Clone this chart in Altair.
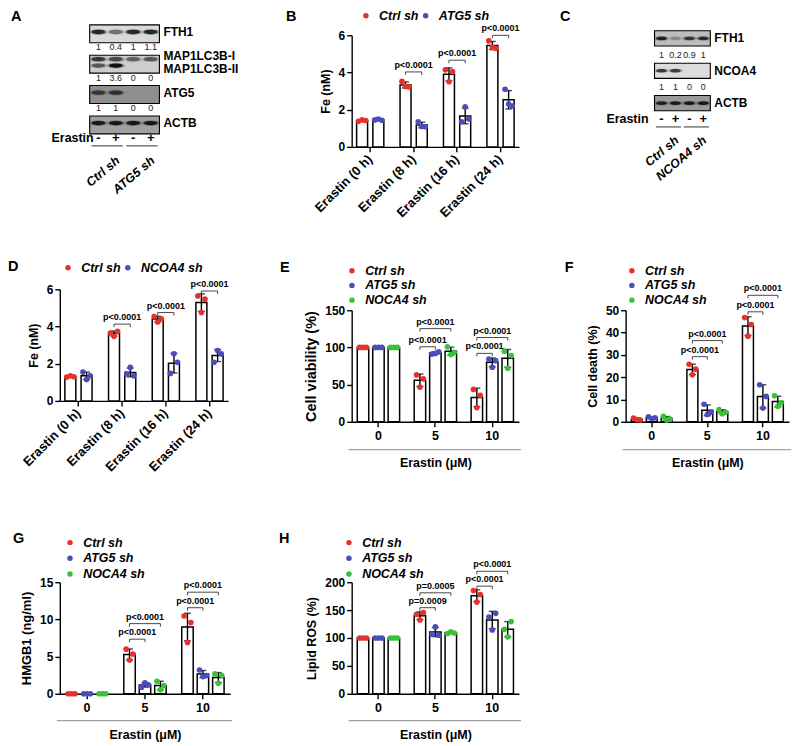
import altair as alt
import pandas as pd

FONT = "Liberation Sans"
RED, BLUE, GREEN = "#E6332A", "#4B4EBA", "#37C237"

# ---------------- shared categories ----------------
FE_GROUPS = ["Erastin (0 h)", "Erastin (8 h)", "Erastin (16 h)", "Erastin (24 h)"]
DOSES = ["0", "5", "10"]
SH3 = ["Ctrl sh", "ATG5 sh", "NOCA4 sh"]
LANES = [0, 1, 2, 3]
ERASTIN_SIGNS = ["-", "+", "-", "+"]

# ---------------- Panel A (western blot) ----------------
A_ROWS = ["FTH1", "q1", "MAP1LC3B", "q2", "ATG5", "q3", "ACTB", "Erastin"]
A_FTH1 = [0.85, 0.45, 0.85, 0.85]
A_LC3_I = [0.75, 0.65, 0.5, 0.55]
A_LC3_II = [0.55, 1.0, 0.0, 0.0]
A_ATG5 = [0.65, 0.7, 0.0, 0.0]
A_ACTB = [0.95, 0.95, 0.95, 0.95]
A_Q_FTH1 = ["1", "0.4", "1", "1.1"]
A_Q_LC3 = ["1", "3.6", "0", "0"]
A_Q_ATG5 = ["1", "1", "0", "0"]
A_GROUPS = ["Ctrl sh", "ATG5 sh"]

# ---------------- Panel C (western blot) ----------------
C_ROWS = ["FTH1", "q1", "NCOA4", "q2", "ACTB", "Erastin"]
C_FTH1 = [0.9, 0.25, 0.75, 0.8]
C_NCOA4 = [0.75, 0.75, 0.0, 0.0]
C_ACTB = [0.9, 0.95, 0.95, 0.95]
C_Q_FTH1 = ["1", "0.2", "0.9", "1"]
C_Q_NCOA4 = ["1", "1", "0", "0"]
C_GROUPS = ["Ctrl sh", "NCOA4 sh"]

# ---------------- Panel B: Fe (nM) ----------------
B_SERIES = ["Ctrl sh", "ATG5 sh"]
B_CTRL = [[1.38, 1.45, 1.42], [3.52, 3.25, 3.22], [4.15, 3.5, 4.05], [5.7, 5.35, 5.3]]
B_ATG5 = [[1.45, 1.5, 1.43], [1.35, 1.1, 1.08], [1.35, 2.15, 1.5], [3.1, 2.3, 2.2]]
B_P_GROUP = ["Erastin (8 h)", "Erastin (16 h)", "Erastin (24 h)"]
B_P_S1 = [0, 0, 0]
B_P_S2 = [1, 1, 1]
B_P_Y = [4.03, 4.66, 6.0]
B_P_TEXT = ["p<0.0001", "p<0.0001", "p<0.0001"]

# ---------------- Panel D: Fe (nM) ----------------
D_SERIES = ["Ctrl sh", "NCOA4 sh"]
D_CTRL = [[1.28, 1.35, 1.3], [3.65, 3.47, 3.74], [4.54, 4.24, 4.42], [5.64, 4.75, 5.47]]
D_NCOA4 = [[1.55, 1.15, 1.35], [1.45, 1.8, 1.35], [1.48, 2.53, 2.08], [2.08, 2.71, 2.53]]
D_P_GROUP = ["Erastin (8 h)", "Erastin (16 h)", "Erastin (24 h)"]
D_P_S1 = [0, 0, 0]
D_P_S2 = [1, 1, 1]
D_P_Y = [4.13, 4.75, 5.91]
D_P_TEXT = ["p<0.0001", "p<0.0001", "p<0.0001"]

# ---------------- Panel E: Cell viability (%) ----------------
E_CTRL = [[100, 100, 100], [63.1, 46.7, 57.8], [43.6, 19.1, 35.6]]
E_ATG5 = [[100, 100, 100], [91.1, 92.0, 94.2], [84.4, 73.3, 82.2]]
E_NOCA4 = [[100, 100, 100], [101.0, 90.5, 93.5], [95.0, 72.0, 89.0]]
E_P_GROUP = ["5", "5", "10", "10"]
E_P_S1 = [0, 0, 0, 0]
E_P_S2 = [1, 2, 1, 2]
E_P_Y = [100.9, 125.3, 92.0, 113.3]
E_P_TEXT = ["p<0.0001"] * 4

# ---------------- Panel F: Cell death (%) ----------------
F_CTRL = [[1.7, 1.0, 0.8], [25.8, 21.1, 23.6], [46.7, 38.4, 43.6]]
F_ATG5 = [[2.2, 1.5, 1.8], [7.9, 3.3, 4.3], [16.6, 6.2, 11.4]]
F_NOCA4 = [[2.5, 0.8, 1.2], [5.5, 3.6, 4.3], [11.7, 7.0, 8.5]]
F_P_GROUP = ["5", "5", "10", "10"]
F_P_S1 = [0, 0, 0, 0]
F_P_S2 = [1, 2, 1, 2]
F_P_Y = [29.2, 36.4, 49.3, 56.7]
F_P_TEXT = ["p<0.0001"] * 4

# ---------------- Panel G: HMGB1 (ng/ml) ----------------
G_CTRL = [[0, 0, 0], [6.0, 4.54, 5.34], [10.46, 6.9, 9.57]]
G_ATG5 = [[0, 0, 0], [0.89, 1.47, 1.2], [3.2, 2.31, 2.45]]
G_NOCA4 = [[0, 0, 0], [1.69, 0.53, 1.1], [2.67, 1.42, 2.45]]
G_P_GROUP = ["5", "5", "10", "10"]
G_P_S1 = [0, 0, 0, 0]
G_P_S2 = [1, 2, 1, 2]
G_P_Y = [7.34, 9.43, 11.57, 13.66]
G_P_TEXT = ["p<0.0001"] * 4

# ---------------- Panel H: Lipid ROS (%) ----------------
H_CTRL = [[100, 100, 100], [142.4, 132.3, 145.4], [185.2, 164.4, 178.0]]
H_ATG5 = [[100, 100, 100], [106.8, 119.9, 105.0], [137.7, 114.5, 144.2]]
H_NOCA4 = [[100, 100, 100], [108.0, 111.0, 109.0], [115.7, 102.1, 129.4]]
H_P_GROUP = ["5", "5", "10", "10"]
H_P_S1 = [0, 0, 0, 0]
H_P_S2 = [1, 2, 1, 2]
H_P_Y = [154.3, 181.0, 192.9, 219.6]
H_P_TEXT = ["p=0.0009", "p=0.0005", "p<0.0001", "p<0.0001"]

ELLIPSE = "M -1 0 C -1 -0.42 1 -0.42 1 0 C 1 0.42 -1 0.42 -1 0 Z"
SUB_POS = {"LI": -0.9, "I": -0.45, "mid": 0.0, "II": 0.45, "LII": 0.9}
JIT = [-0.22, 0.0, 0.22]


def letter_layer(letter, xy):
    return alt.Chart(pd.DataFrame({"t": [letter]})).mark_text(
        align="left", baseline="middle", font=FONT, fontSize=14.5, fontWeight="bold", color="black"
    ).encode(text="t:N", x=alt.value(xy[0]), y=alt.value(xy[1]))


def bar_panel(groups, series, colors, reps, ymax, yticks, ytitle, W, H, yrange,
              pi, po, bw, pitch, p_group, p_s1, p_s2, p_y, p_text,
              letter, letter_xy, legend_xy, legend_dir, rotate_x,
              x_axis_offset=0, ytitle_size=12.5, sep_y=None, row_pad=2.0):
    m = len(series)
    step = W / (len(groups) - pi + 2 * po)
    band = step * (1 - pi)
    half = (m - 1) / 2 * pitch
    lo_d, hi_d = JIT[0], (m - 1) + JIT[-1]
    off = alt.Scale(domain=[lo_d, hi_d], nice=False, zero=False,
                    range=[band / 2 - half + JIT[0] * pitch, band / 2 + half + JIT[-1] * pitch])
    rows = []
    for si, s in enumerate(series):
        for gi, g in enumerate(groups):
            for ri, v in enumerate(reps[si][gi]):
                rows.append({"group": g, "series": s, "sidx": si, "pos": si + JIT[ri], "value": v})
    df = pd.DataFrame(rows)

    xs = alt.Scale(type="band", domain=groups, paddingInner=pi, paddingOuter=po)
    ys = alt.Scale(domain=[0, ymax], range=yrange, nice=False, zero=True)
    if rotate_x:
        xaxis = alt.Axis(title=None, labelAngle=315, labelAlign="right", labelBaseline="middle",
                         labelFontSize=13, labelPadding=5, offset=x_axis_offset, bandPosition=0.5)
    else:
        xaxis = alt.Axis(title="Erastin (\u03bcM)", labelAngle=0, labelFontSize=12.5, labelPadding=3,
                         titlePadding=14, titleFontSize=12.5, bandPosition=0.5)
    yaxis = alt.Axis(title=ytitle, values=yticks, titleFontSize=ytitle_size, labelFontSize=12,
                     titlePadding=6)
    X = alt.X("group:N", scale=xs, axis=xaxis)

    def Y(f):
        return alt.Y(f, scale=ys, axis=yaxis)

    def XO(f):
        return alt.XOffset(f, scale=off)

    base = alt.Chart(df)
    bars = base.mark_bar(fill="white", stroke="black", strokeWidth=1.5, size=bw).encode(
        x=X, xOffset=XO("sidx:Q"), y=Y("mean(value):Q"))
    stats = base.transform_aggregate(
        m="mean(value)", sd="stdev(value)", groupby=["group", "sidx"]
    ).transform_calculate(lo="datum.m - datum.sd", hi="datum.m + datum.sd")
    err = stats.mark_rule(color="black", strokeWidth=1.4).encode(
        x=X, xOffset=XO("sidx:Q"), y=Y("lo:Q"), y2="hi:Q")
    caps = stats.transform_fold(["lo", "hi"], as_=["k", "v"]).mark_tick(
        color="black", thickness=1.4, size=7).encode(x=X, xOffset=XO("sidx:Q"), y=Y("v:Q"))
    leg = alt.Legend(orient="none", legendX=legend_xy[0], legendY=legend_xy[1], direction=legend_dir,
                     title=None, labelFont=FONT, labelFontSize=12.5, labelFontWeight="bold",
                     labelFontStyle="italic", labelColor="black", symbolType="circle", symbolSize=30,
                     symbolStrokeWidth=0, symbolOpacity=1, labelOffset=7, columnPadding=-2,
                     rowPadding=row_pad, padding=0)
    pts = base.mark_circle(size=32, opacity=1).encode(
        x=X, xOffset=XO("pos:Q"), y=Y("value:Q"),
        color=alt.Color("series:N", scale=alt.Scale(domain=series, range=colors), legend=leg))

    d = 3.0 * ymax / (yrange[0] - yrange[1])
    brows, trows = [], []
    for bi, (g, s1, s2, yv, lab) in enumerate(zip(p_group, p_s1, p_s2, p_y, p_text)):
        for k, (p, yy) in enumerate([(s1, yv - d), (s1, yv), (s2, yv), (s2, yv - d)]):
            brows.append({"bid": bi, "k": k, "group": g, "pos": p, "y": yy})
        trows.append({"group": g, "mid": (s1 + s2) / 2, "y": yv, "label": lab})
    br = alt.Chart(pd.DataFrame(brows)).mark_line(color="#333333", strokeWidth=0.9).encode(
        x=X, xOffset=XO("pos:Q"), y=Y("y:Q"), detail="bid:N", order="k:Q")
    bt = alt.Chart(pd.DataFrame(trows)).mark_text(
        baseline="bottom", dy=-2, font=FONT, fontSize=9, fontWeight="bold", color="black").encode(
        x=X, xOffset=XO("mid:Q"), y=Y("y:Q"), text="label:N")

    layers = [bars, err, caps, pts, br, bt, letter_layer(letter, letter_xy)]
    if sep_y is not None:
        layers.append(alt.Chart(pd.DataFrame({"a": [0]})).mark_rule(color="#8a8a8a", strokeWidth=1).encode(
            x=alt.value(-3), x2=alt.value(W + 2), y=alt.value(sep_y)))
    return alt.layer(*layers).properties(width=W, height=H)


def blot_panel(rows, xr, yr, W, H, box_rows, shades, band_spec, quant_spec, label_spec, groups,
               erastin_dx, label_dx, label_size, ul_y, gl_y, gl_dx, letter, letter_xy, band_size):
    n = len(LANES)
    pad = 0.06
    step = (yr[1] - yr[0]) / (len(rows) - pad)
    bandw = step * (1 - pad)
    xs = alt.Scale(domain=[-0.5, n - 0.5], range=xr, nice=False, zero=False)
    ys = alt.Scale(type="band", domain=rows, range=yr, paddingInner=pad, paddingOuter=0)
    subs_used = {s for _, s, _ in band_spec} | {s for _, _, s in label_spec}
    use_off = subs_used != {"mid"}
    yo = alt.Scale(domain=[-1, 1], range=[0, bandw], nice=False, zero=False)

    def X(f):
        return alt.X(f, scale=xs, axis=None)

    Y = alt.Y("row:N", scale=ys, axis=None)

    def enc_y(extra):
        e = dict(y=Y)
        if use_off:
            e["yOffset"] = alt.YOffset("off:Q", scale=yo)
        e.update(extra)
        return e

    box_df = pd.DataFrame({"row": box_rows, "shade": shades})
    box_df["x0"] = -0.5
    box_df["x1"] = n - 0.5
    boxes = alt.Chart(box_df).mark_rect(stroke="black", strokeWidth=1.1).encode(
        x=X("x0:Q"), x2="x1:Q", y=Y, fill=alt.Fill("shade:N", scale=None))

    brows = []
    for row, sub, levels in band_spec:
        for lane, lv in zip(LANES, levels):
            brows.append({"row": row, "off": SUB_POS[sub], "lane": lane, "level": lv, "halo": lv * 0.3})
    bdf = pd.DataFrame(brows)
    halo = alt.Chart(bdf).mark_point(shape=ELLIPSE, filled=True, color="#222222", size=band_size * 1.8,
                                     strokeWidth=0).encode(
        **enc_y(dict(x=X("lane:Q"), opacity=alt.Opacity("halo:Q", scale=None))))
    core = alt.Chart(bdf).mark_point(shape=ELLIPSE, filled=True, color="#111111", size=band_size,
                                     strokeWidth=0).encode(
        **enc_y(dict(x=X("lane:Q"), opacity=alt.Opacity("level:Q", scale=None))))

    qrows = []
    for row, texts in quant_spec:
        for lane, t in zip(LANES, texts):
            qrows.append({"row": row, "lane": lane, "t": t})
    nums = alt.Chart(pd.DataFrame(qrows)).mark_text(font=FONT, fontSize=9, color="#222222").encode(
        x=X("lane:Q"), y=Y, text="t:N")

    sdf = pd.DataFrame({"row": "Erastin", "lane": LANES, "t": ERASTIN_SIGNS})
    signs = alt.Chart(sdf).mark_text(font=FONT, fontSize=13, fontWeight="bold", color="black").encode(
        x=X("lane:Q"), y=Y, text="t:N")
    er = alt.Chart(pd.DataFrame({"row": ["Erastin"], "x": [-0.5], "t": ["Erastin"]})).mark_text(
        font=FONT, fontSize=12.5, fontWeight="bold", align="right", dx=erastin_dx, color="black").encode(
        x=X("x:Q"), y=Y, text="t:N")

    ldf = pd.DataFrame(label_spec, columns=["t", "row", "sub"])
    ldf["off"] = ldf["sub"].map(SUB_POS)
    ldf["x"] = n - 0.5
    labels = alt.Chart(ldf).mark_text(font=FONT, fontSize=label_size, fontWeight="bold", align="left",
                                      dx=label_dx, color="black").encode(
        **enc_y(dict(x=X("x:Q"), text="t:N")))

    gl_rows = []
    for gi, g in enumerate(groups):
        first, last = LANES[2 * gi], LANES[2 * gi + 1]
        gl_rows.append({"g": g, "x0": first - 0.4, "x1": last + 0.4, "xl": last})
    gdf = pd.DataFrame(gl_rows)
    ul = alt.Chart(gdf).mark_rule(color="#333333", strokeWidth=1).encode(
        x=X("x0:Q"), x2="x1:Q", y=alt.value(ul_y))
    gl = alt.Chart(gdf).mark_text(font=FONT, fontSize=12.5, fontWeight="bold", fontStyle="italic",
                                  angle=320, align="right", baseline="middle", dx=gl_dx,
                                  color="black").encode(
        x=X("xl:Q"), y=alt.value(gl_y), text="g:N")

    return alt.layer(boxes, halo, core, nums, signs, er, labels, ul, gl,
                     letter_layer(letter, letter_xy)).properties(width=W, height=H)


# ---------------- build panels ----------------
pA = blot_panel(
    A_ROWS, xr=[30, 100], yr=[0.5, 121.5], W=186, H=100,
    box_rows=["FTH1", "MAP1LC3B", "ATG5", "ACTB"],
    shades=["#d9d9d9", "#cdcdcd", "#8f8f8f", "#a0a0a0"],
    band_spec=[("FTH1", "mid", A_FTH1), ("MAP1LC3B", "I", A_LC3_I), ("MAP1LC3B", "II", A_LC3_II),
               ("ATG5", "mid", A_ATG5), ("ACTB", "mid", A_ACTB)],
    quant_spec=[("q1", A_Q_FTH1), ("q2", A_Q_LC3), ("q3", A_Q_ATG5)],
    label_spec=[("FTH1", "FTH1", "mid"), ("MAP1LC3B-I", "MAP1LC3B", "LI"),
                ("MAP1LC3B-II", "MAP1LC3B", "LII"), ("ATG5", "ATG5", "mid"), ("ACTB", "ACTB", "mid")],
    groups=A_GROUPS, erastin_dx=4, label_dx=4, label_size=12, ul_y=122, gl_y=137, gl_dx=3,
    letter="A", letter_xy=(-49, -7), band_size=190)

pC = blot_panel(
    C_ROWS, xr=[29, 85], yr=[6.5, 103], W=100, H=100,
    box_rows=["FTH1", "NCOA4", "ACTB"],
    shades=["#bdbdbd", "#dcdcdc", "#9a9a9a"],
    band_spec=[("FTH1", "mid", C_FTH1), ("NCOA4", "mid", C_NCOA4), ("ACTB", "mid", C_ACTB)],
    quant_spec=[("q1", C_Q_FTH1), ("q2", C_Q_NCOA4)],
    label_spec=[("FTH1", "FTH1", "mid"), ("NCOA4", "NCOA4", "mid"), ("ACTB", "ACTB", "mid")],
    groups=C_GROUPS, erastin_dx=-6, label_dx=4, label_size=12, ul_y=103, gl_y=116, gl_dx=2,
    letter="C", letter_xy=(-66, -7), band_size=120)

pB = bar_panel(FE_GROUPS, B_SERIES, [RED, BLUE], [B_CTRL, B_ATG5], 6, [0, 2, 4, 6], "Fe (nM)",
               W=168, H=105, yrange=[123, 11], pi=0.376, po=0.115, bw=11, pitch=16.3,
               p_group=B_P_GROUP, p_s1=B_P_S1, p_s2=B_P_S2, p_y=B_P_Y, p_text=B_P_TEXT,
               letter="B", letter_xy=(-66, -7), legend_xy=(8, -15), legend_dir="horizontal",
               rotate_x=True, x_axis_offset=18)

pD = bar_panel(FE_GROUPS, D_SERIES, [RED, BLUE], [D_CTRL, D_NCOA4], 6, [0, 2, 4, 6], "Fe (nM)",
               W=169, H=112, yrange=[112, 0], pi=0.376, po=0.115, bw=11, pitch=16.3,
               p_group=D_P_GROUP, p_s1=D_P_S1, p_s2=D_P_S2, p_y=D_P_Y, p_text=D_P_TEXT,
               letter="D", letter_xy=(-52, -22), legend_xy=(2, -28), legend_dir="horizontal",
               rotate_x=True)

pE = bar_panel(DOSES, SH3, [RED, BLUE, GREEN], [E_CTRL, E_ATG5, E_NOCA4], 150, [0, 50, 100, 150],
               "Cell viability (%)", W=168, H=133, yrange=[133, 21], pi=0.26, po=0.1, bw=11.5,
               pitch=15.5, p_group=E_P_GROUP, p_s1=E_P_S1, p_s2=E_P_S2, p_y=E_P_Y, p_text=E_P_TEXT,
               letter="E", letter_xy=(-72, -21), legend_xy=(-6, -25), legend_dir="vertical",
               rotate_x=False, ytitle_size=14.5, sep_y=161, row_pad=1.8)

pF = bar_panel(DOSES, SH3, [RED, BLUE, GREEN], [F_CTRL, F_ATG5, F_NOCA4], 50, [0, 10, 20, 30, 40, 50],
               "Cell death (%)", W=164, H=133, yrange=[133, 21], pi=0.26, po=0.1, bw=11, pitch=15,
               p_group=F_P_GROUP, p_s1=F_P_S1, p_s2=F_P_S2, p_y=F_P_Y, p_text=F_P_TEXT,
               letter="F", letter_xy=(-61, -21), legend_xy=(0, -25), legend_dir="vertical",
               rotate_x=False, sep_y=161, row_pad=1.8)

pG = bar_panel(DOSES, SH3, [RED, BLUE, GREEN], [G_CTRL, G_ATG5, G_NOCA4], 15, [0, 5, 10, 15],
               "HMGB1 (ng/ml)", W=171, H=112, yrange=[112, 0], pi=0.26, po=0.1, bw=11.5, pitch=15.5,
               p_group=G_P_GROUP, p_s1=G_P_S1, p_s2=G_P_S2, p_y=G_P_Y, p_text=G_P_TEXT,
               letter="G", letter_xy=(-47, -43), legend_xy=(4, -46), legend_dir="vertical",
               rotate_x=False, ytitle_size=13, sep_y=139, row_pad=2.8)

pH = bar_panel(DOSES, SH3, [RED, BLUE, GREEN], [H_CTRL, H_ATG5, H_NOCA4], 200, [0, 50, 100, 150, 200],
               "Lipid ROS (%)", W=168, H=112, yrange=[112, 0], pi=0.26, po=0.1, bw=11.5, pitch=15.5,
               p_group=H_P_GROUP, p_s1=H_P_S1, p_s2=H_P_S2, p_y=H_P_Y, p_text=H_P_TEXT,
               letter="H", letter_xy=(-73, -43), legend_xy=(-9, -46), legend_dir="vertical",
               rotate_x=False, sep_y=139, row_pad=2.8)

chart = alt.concat(
    pA, pB, pC, pD, pE, pF, pG, pH,
    columns=3, spacing={"row": 161, "column": 107}, bounds="flush", align="each",
).resolve_scale(
    color="independent", xOffset="independent", yOffset="independent"
).resolve_legend(color="independent").properties(
    padding={"left": 0, "top": 0, "right": 0, "bottom": 0}
).configure_view(stroke=None).configure_axis(
    labelFont=FONT, titleFont=FONT, labelFontWeight="bold", titleFontWeight="bold",
    labelColor="black", titleColor="black", domainColor="black", tickColor="black",
    domainWidth=1.4, tickWidth=1.4, tickSize=5, grid=False
).configure_legend(labelFont=FONT)

chart.save("out.html", embed_options={"renderer": "svg", "actions": False})
